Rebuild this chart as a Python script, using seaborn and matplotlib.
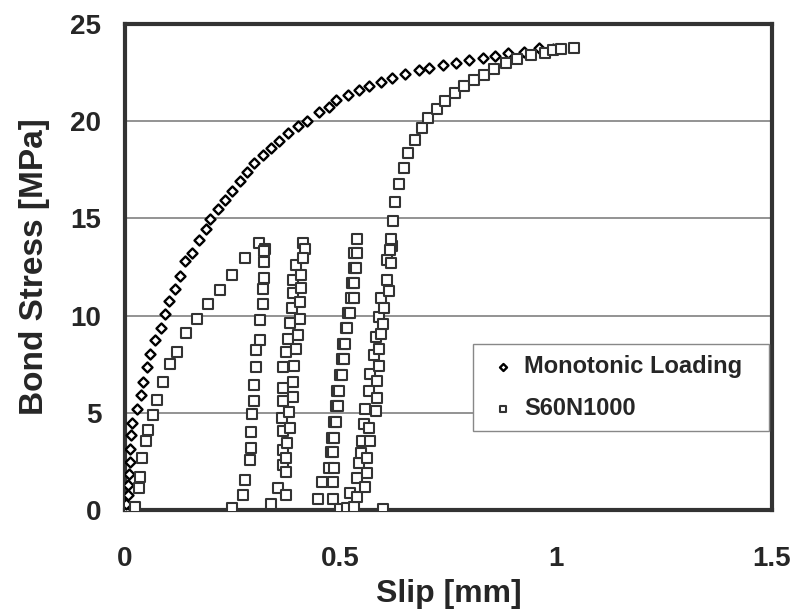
import matplotlib
matplotlib.use("Agg")
import matplotlib.pyplot as plt
import seaborn as sns
import pandas as pd

# Monotonic loading (slip mm, bond stress MPa)
mono_slip = [0.000, 0.003, 0.007, 0.007, 0.009, 0.012, 0.012, 0.015, 0.017, 0.028, 0.036,
             0.042, 0.052, 0.059, 0.070, 0.083, 0.093, 0.103, 0.116, 0.128, 0.140, 0.155,
             0.171, 0.188, 0.196, 0.215, 0.231, 0.249, 0.266, 0.283, 0.300, 0.319, 0.339,
             0.358, 0.379, 0.400, 0.421, 0.450, 0.472, 0.490, 0.518, 0.543, 0.565, 0.594,
             0.620, 0.649, 0.681, 0.704, 0.737, 0.768, 0.798, 0.831, 0.858, 0.889, 0.924,
             0.960, 0.992]
mono_stress = [0.0, 0.33, 0.78, 1.30, 1.87, 2.49, 3.12, 3.84, 4.48, 5.19, 5.92,
               6.56, 7.34, 8.00, 8.73, 9.35, 10.08, 10.75, 11.38, 12.05, 12.79, 13.23,
               13.89, 14.44, 14.96, 15.48, 15.95, 16.43, 16.90, 17.39, 17.85, 18.25, 18.60,
               19.00, 19.38, 19.73, 20.02, 20.45, 20.71, 21.08, 21.37, 21.63, 21.80, 22.03,
               22.20, 22.41, 22.61, 22.72, 22.89, 23.01, 23.13, 23.27, 23.36, 23.50, 23.58,
               23.76, 23.70]

# Cyclic test S60N1000
cyc_slip = [
    # first loading
    0.023, 0.032, 0.034, 0.040, 0.048, 0.054, 0.064, 0.075, 0.089, 0.105, 0.121, 0.142,
    0.166, 0.192, 0.220, 0.247, 0.278, 0.310,
    # first unloading
    0.325, 0.323, 0.323, 0.322, 0.319, 0.319, 0.314, 0.314, 0.304, 0.304, 0.300, 0.300,
    0.294, 0.293, 0.293, 0.290, 0.279, 0.274, 0.247,
    # second reloading
    0.339, 0.354, 0.366, 0.366, 0.366, 0.364, 0.366, 0.366, 0.366, 0.378, 0.374, 0.382,
    0.388, 0.389, 0.389, 0.397,
    # second unloading
    0.413, 0.417, 0.413, 0.409, 0.409, 0.405, 0.405, 0.400, 0.397, 0.392, 0.389, 0.389,
    0.380, 0.382, 0.376, 0.374, 0.374, 0.374,
    # third reloading
    0.448, 0.457, 0.473, 0.477, 0.480, 0.484, 0.489, 0.492, 0.499, 0.502, 0.505, 0.512,
    0.518, 0.525, 0.527, 0.530, 0.532,
    # third unloading
    0.538, 0.538, 0.536, 0.532, 0.530, 0.522, 0.515, 0.509, 0.507, 0.503, 0.497, 0.493,
    0.489, 0.485, 0.483, 0.485, 0.483, 0.483, 0.499,
    # fourth cycle
    0.515, 0.530, 0.522, 0.538, 0.538, 0.557, 0.542, 0.561, 0.546, 0.561, 0.550, 0.569,
    0.553, 0.565, 0.557, 0.581, 0.565, 0.585, 0.569, 0.585, 0.577, 0.589, 0.581, 0.593,
    0.589, 0.589, 0.597, 0.593, 0.600, 0.612, 0.608, 0.608, 0.616, 0.620, 0.616, 0.597,
    # envelope
    0.614, 0.622, 0.625, 0.635, 0.646, 0.656, 0.673, 0.688, 0.703, 0.724, 0.742, 0.764,
    0.786, 0.810, 0.833, 0.856, 0.883, 0.909, 0.941, 0.974, 0.993, 1.010, 1.041,
]
cyc_stress = [
    # first loading
    0.16, 1.11, 1.71, 2.66, 3.57, 4.14, 4.87, 5.65, 6.56, 7.52, 8.12, 9.08,
    9.80, 10.58, 11.32, 12.10, 12.94, 13.71,
    # first unloading
    13.44, 13.30, 12.74, 11.93, 11.36, 10.58, 9.77, 8.76, 8.21, 7.34, 6.43, 5.61,
    4.92, 4.00, 3.18, 2.58, 1.54, 0.76, 0.12,
    # second reloading
    0.33, 1.11, 2.32, 3.10, 4.05, 4.74, 5.61, 6.30, 7.34, 8.82, 8.12, 9.63,
    10.37, 11.15, 11.84, 12.62,
    # second unloading
    13.75, 13.44, 12.97, 12.10, 11.41, 10.72, 9.85, 8.99, 8.30, 7.43, 6.60, 5.83,
    5.04, 4.22, 3.44, 2.66, 1.97, 0.76,
    # third reloading
    0.59, 1.42, 2.15, 2.96, 3.70, 4.52, 5.35, 6.13, 6.95, 7.78, 8.56, 9.34,
    10.11, 10.89, 11.67, 12.45, 13.23,
    # third unloading
    13.96, 13.23, 12.45, 11.67, 10.89, 10.11, 9.34, 8.56, 7.78, 6.95, 6.13, 5.35,
    4.52, 3.70, 2.96, 2.15, 1.42, 0.59, 0.07,
    # fourth cycle
    0.10, 0.16, 0.85, 0.68, 1.63, 1.19, 2.41, 1.89, 2.92, 2.66, 3.53, 3.53,
    4.40, 4.22, 5.18, 5.09, 6.13, 5.78, 7.00, 6.65, 7.95, 7.43, 8.90, 9.07,
    8.30, 9.94, 9.59, 10.89, 10.37, 11.24, 11.84, 12.88, 12.71, 13.57, 13.92, 0.07,
    # envelope
    13.40, 14.87, 15.86, 16.78, 17.61, 18.34, 19.03, 19.64, 20.16, 20.64, 21.05, 21.45,
    21.80, 22.11, 22.37, 22.70, 22.98, 23.18, 23.39, 23.53, 23.67, 23.70, 23.74,
]

x_ticks = [0, 0.5, 1, 1.5]
x_tick_labels = ["0", "0.5", "1", "1.5"]
y_ticks = [0, 5, 10, 15, 20, 25]

mono_df = pd.DataFrame({"slip": mono_slip, "stress": mono_stress})
cyc_df = pd.DataFrame({"slip": cyc_slip, "stress": cyc_stress})

sns.set_theme(style="white")
plt.rcParams["font.family"] = ["Liberation Sans", "DejaVu Sans"]
plt.rcParams["font.weight"] = "bold"

fig = plt.figure(figsize=(7.97, 6.11), dpi=100)
ax = fig.add_axes([125 / 797, 1 - 510 / 611, 647 / 797, 486 / 611])

sns.scatterplot(data=mono_df, x="slip", y="stress", marker="D", s=26,
                facecolor="white", edgecolor="black", linewidth=1.7,
                label="Monotonic Loading", ax=ax, zorder=3)
sns.scatterplot(data=cyc_df, x="slip", y="stress", marker="s", s=46,
                facecolor="white", edgecolor="#333333", linewidth=1.5,
                label="S60N1000", ax=ax, zorder=4)

ax.set_xlim(0, 1.5)
ax.set_ylim(0, 25)
ax.set_xticks(x_ticks)
ax.set_xticklabels(x_tick_labels)
ax.set_yticks(y_ticks)
ax.tick_params(axis="y", length=0, labelsize=20, pad=17)
ax.tick_params(axis="x", length=0, labelsize=20, pad=26)
for lab in ax.get_xticklabels() + ax.get_yticklabels():
    lab.set_fontweight("bold")
ax.yaxis.grid(True, color="#8a8a8a", linewidth=1.3)
ax.xaxis.grid(False)
ax.set_axisbelow(True)
for sp in ax.spines.values():
    sp.set_color("#333333")
    sp.set_linewidth(3)

ax.set_xlabel("Slip [mm]", fontsize=23, fontweight="bold", labelpad=5)
ax.set_ylabel("Bond Stress [MPa]", fontsize=24, fontweight="bold", labelpad=15)

leg = ax.legend(loc="upper left", bbox_to_anchor=(0.538, 0.163, 0.457, 0.179),
                mode="expand", borderaxespad=0, frameon=True, fancybox=False,
                framealpha=1, fontsize=17, markerscale=0.7, handletextpad=0.1,
                borderpad=0.47, labelspacing=0.8, handlelength=1.6)
leg.get_frame().set_edgecolor("#888888")
leg.get_frame().set_linewidth(1.0)
for t in leg.get_texts():
    t.set_fontweight("bold")

fig.savefig("out.png", dpi=100)
